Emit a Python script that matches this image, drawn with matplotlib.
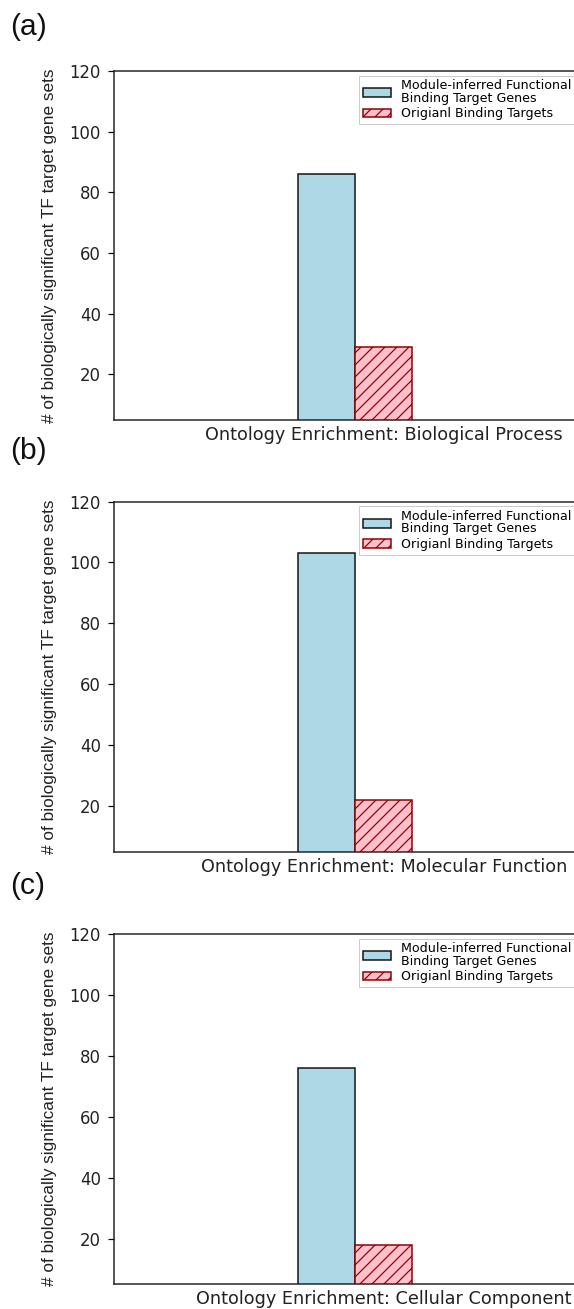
import matplotlib
matplotlib.use("Agg")
import matplotlib.pyplot as plt
import numpy as np

# Counts of biologically significant TF target gene sets per GO category
categories = [
    "Ontology Enrichment: Biological Process",
    "Ontology Enrichment: Molecular Function",
    "Ontology Enrichment: Cellular Component",
]
panel_tags = ["(a)", "(b)", "(c)"]
module_inferred = [86, 103, 76]
original_targets = [29, 22, 18]
series_labels = [
    "Module-inferred Functional\nBinding Target Genes",
    "Origianl Binding Targets",
]
y_ticks = [20, 40, 60, 80, 100, 120]
y_range = (5, 120)

DPI = 72
W, H = 574, 1309
plt.rcParams["hatch.linewidth"] = 1.2

fig = plt.figure(figsize=(W / DPI, H / DPI), dpi=DPI)

# axes frames in pixels: (left, top, right, bottom)
left_px, right_px = 114, 660
tops = [71, 501.5, 934]
bottoms = [420, 851.7, 1284.3]
tag_tops = [13, 437, 872]

width = 0.35
x = np.arange(1)

for i in range(3):
    t, b = tops[i], bottoms[i]
    ax = fig.add_axes([left_px / W, 1 - b / H, (right_px - left_px) / W, (b - t) / H])
    ax.bar(x - width / 2, [module_inferred[i]], width, color="lightblue",
           edgecolor="#111111", linewidth=1.5, label=series_labels[0])
    ax.bar(x + width / 2, [original_targets[i]], width, color="pink",
           edgecolor="darkred", hatch="//", linewidth=1.5, label=series_labels[1])

    ax.set_ylim(*y_range)
    ax.set_xlim(-1.48, 1.87)
    ax.set_yticks(y_ticks)
    ax.set_xticks(x + width / 2)
    ax.set_xticklabels([categories[i]], fontsize=17.6, color="#222222")
    ax.tick_params(axis="x", length=0, pad=6)
    ax.tick_params(axis="y", length=6, width=1.2, pad=7, labelsize=16.5,
                   labelcolor="#222222")
    for s in ax.spines.values():
        s.set_linewidth(1.5)
        s.set_color("#222222")

    ax.set_ylabel("# of biologically significant TF target gene sets",
                  fontfamily="Liberation Sans", fontsize=17.2, va="center",
                  color="#222222")
    ax.yaxis.set_label_coords(-(left_px - 49.5) / (right_px - left_px), 0.5)

    leg = ax.legend(loc="upper left",
                    bbox_to_anchor=((359 - left_px) / (right_px - left_px), 0.987),
                    bbox_transform=ax.transAxes, borderaxespad=0,
                    fontsize=12.6, handlelength=2.2, labelspacing=0.2,
                    borderpad=0.3, handletextpad=0.8, fancybox=False,
                    edgecolor="#cccccc", framealpha=1)
    for txt in leg.get_texts():
        txt.set_linespacing(0.95)

    fig.text(10 / W, 1 - tag_tops[i] / H, panel_tags[i], fontfamily="Liberation Sans",
             fontsize=30, va="top", ha="left", color="#111111")

fig.savefig("out.png", dpi=DPI)
